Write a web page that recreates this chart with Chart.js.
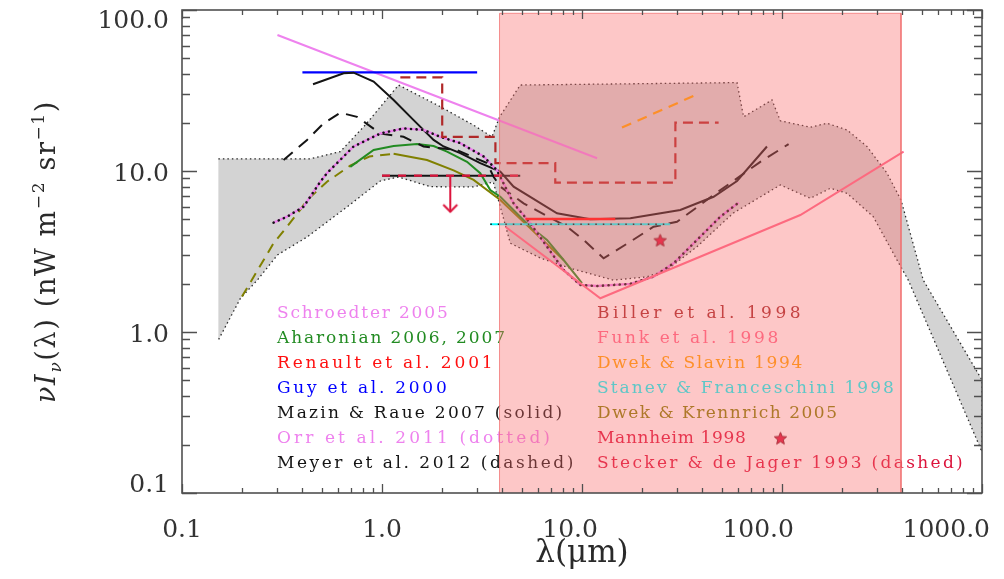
<!DOCTYPE html>
<html>
<head>
<meta charset="utf-8">
<script src="https://cdn.jsdelivr.net/npm/chart.js@4.4.1/dist/chart.umd.min.js"></script>
<style>
  html, body { margin: 0; padding: 0; background: #fff; }
  canvas { display: block; }
</style>
</head>
<body>
<canvas id="c" width="1004" height="579"></canvas>
<script>
// Axis ticks
const xTickValues = [0.1, 1, 10, 100, 1000];
const xTickLabels = ['0.1', '1.0', '10.0', '100.0', '1000.0'];
const yTickValues = [0.1, 1, 10, 100];
const yTickLabels = ['0.1', '1.0', '10.0', '100.0'];

// Wavelength (um) / nu I_nu (nW m^-2 sr^-1)
// Shaded mid-IR window
const windowX = [3.87, 3.87, 393.6, 393.6];
const windowY = [0.1, 95.4, 95.4, 0.1];

// EBL envelope (grey band), upper and lower edges
const envUpperX = [0.152, 0.438, 0.619, 0.825, 1.21, 1.957, 2.861, 3.548, 3.873, 4.915, 59.57, 64.27, 89.1, 98.1, 138.5, 167.9, 211.4, 266.1, 335, 393.6, 508.6, 1000];
const envUpperY = [11.9, 11.9, 13.2, 19.3, 34.2, 25.1, 19.3, 16.3, 21.7, 34.2, 35.4, 21.7, 27.6, 20.5, 18.7, 19.8, 18.0, 14.2, 9.7, 6.6, 2.10, 0.503];
const envLowerX = [0.152, 0.196, 0.238, 0.30, 0.422, 0.668, 0.981, 1.21, 1.744, 2.861, 3.60, 3.904, 4.38, 6.19, 8.74, 14.34, 21.1, 26.6, 37.6, 57.1, 98.1, 138.5, 174.4, 211.4, 286, 375.8, 428, 1000];
const envLowerY = [0.892, 1.62, 2.10, 3.01, 3.89, 5.98, 8.67, 9.18, 7.99, 7.96, 8.55, 6.00, 3.56, 2.88, 2.49, 2.10, 2.20, 2.43, 3.39, 5.48, 8.19, 6.77, 7.81, 7.27, 5.20, 2.80, 2.10, 0.180];

const schroedterX = [0.30, 11.9];
const schroedterY = [69.9, 12.0];

const guyX = [0.40, 2.99];
const guyY = [41.0, 41.0];

const mazinX = [0.452, 0.643, 0.721, 0.908, 1.143, 1.439, 1.811, 2.032, 2.463, 3.10, 3.904, 4.55, 7.50, 11.0, 17.44, 31.0, 45.5, 59.6, 84.1];
const mazinY = [34.6, 40.5, 40.8, 35.9, 27.6, 20.7, 15.6, 14.2, 12.9, 11.2, 9.9, 7.99, 5.46, 5.01, 5.08, 5.73, 6.92, 8.67, 14.2];

const meyerX = [0.322, 0.422, 0.511, 0.619, 0.75, 0.981, 1.282, 1.614, 2.371, 3.35, 3.614, 3.904, 5.105, 8.414, 10.19, 12.82, 17.44, 22.8, 29.85, 36.0, 45.5, 77.9, 107.9];
const meyerY = [11.7, 15.6, 19.8, 23.0, 21.7, 17.1, 16.3, 14.2, 13.5, 11.2, 9.2, 7.99, 6.30, 4.51, 3.73, 2.87, 3.64, 4.51, 4.84, 5.73, 7.10, 11.4, 14.7];

const orrX = [0.287, 0.335, 0.4055, 0.4915, 0.531, 0.721, 0.981, 1.282, 1.614, 1.957, 2.463, 3.221, 3.758, 4.55, 5.514, 6.683, 8.091, 9.806, 11.885, 17.44, 22.8, 28.7, 37.58, 49.15, 60.67];
const orrY = [4.78, 5.20, 6.00, 8.58, 9.7, 14.2, 17.1, 18.4, 18.0, 16.3, 14.9, 12.3, 10.1, 6.30, 4.73, 3.39, 2.43, 1.96, 1.93, 1.99, 2.21, 2.67, 3.73, 5.20, 6.36];

const aharonianX = [0.694, 0.908, 1.143, 1.496, 1.811, 2.114, 2.661, 3.10, 3.479, 3.904, 5.514, 6.683, 8.091, 10.0];
const aharonianY = [10.6, 13.5, 14.3, 14.7, 14.3, 13.2, 11.4, 9.7, 7.62, 6.92, 4.51, 3.73, 2.80, 2.01];

const dwekKrennrichX = [0.1995, 0.287, 0.335, 0.390, 0.4217, 0.531, 0.694, 0.865, 1.143, 1.679, 2.28, 2.871, 3.904, 5.514, 8.09];
const dwekKrennrichY = [1.66, 3.56, 4.51, 5.73, 6.60, 8.58, 10.8, 12.3, 12.8, 11.7, 10.1, 8.8, 6.60, 4.41, 2.80];

const billerX = [1.235, 2.0, 3.69, 7.35, 29.3, 48.2];
const billerY = [38.2, 16.3, 11.2, 8.46, 19.95, 19.95];

const renaultX = [5.21, 14.67];
const renaultY = [5.03, 5.03];

const stanevX = [3.48, 27.6];
const stanevY = [4.67, 4.67];

const dwekSlavinX = [15.85, 37.58];
const dwekSlavinY = [18.6, 29.9];

const funkX = [4.14, 12.35, 123.5, 405.5];
const funkY = [4.51, 1.62, 5.33, 13.2];

const mannheimX = [24.6];
const mannheimY = [3.73];

const steckerX = [1.0, 4.91];
const steckerY = [9.35, 9.35];
const steckerLimitX = [2.195, 2.195];
const steckerLimitY = [9.35, 5.59];

// Legend text
const legendLeft = ['Schroedter 2005', 'Aharonian 2006, 2007', 'Renault et al. 2001', 'Guy et al. 2000',
  'Mazin & Raue 2007 (solid)', 'Orr et al. 2011 (dotted)', 'Meyer et al. 2012 (dashed)'];
const legendRight = ['Biller et al. 1998', 'Funk et al. 1998', 'Dwek & Slavin 1994', 'Stanev & Franceschini 1998',
  'Dwek & Krennrich 2005', 'Mannheim 1998', 'Stecker & de Jager 1993 (dashed)'];

const C = {
  violet: '#EE82EE', green: '#228B22', red: '#FF1010', blue: '#0000FF', black: '#141414',
  brown: '#A52A2A', funk: '#FF6A8C', orange: '#FFA500', cyan: '#00FFFF', olive: '#808000',
  crimson: '#DC143C', grey: '#D3D3D3'
};
const legendLeftColors = [C.violet, C.green, C.red, C.blue, C.black, C.violet, C.black];
const legendRightColors = [C.brown, C.funk, C.orange, C.cyan, C.olive, C.crimson, C.crimson];

const pts = (xs, ys) => xs.map((x, i) => ({ x, y: ys[i] }));

function starImage(size, fill, stroke) {
  const c = document.createElement('canvas');
  c.width = c.height = size;
  const g = c.getContext('2d');
  const cx = size / 2, cy = size / 2 + 0.8, R = size / 2 - 1, r = R * 0.45;
  g.beginPath();
  for (let i = 0; i < 10; i++) {
    const a = -Math.PI / 2 + i * Math.PI / 5;
    const rad = i % 2 ? r : R;
    g.lineTo(cx + rad * Math.cos(a), cy + rad * Math.sin(a));
  }
  g.closePath();
  g.fillStyle = fill; g.fill();
  g.lineWidth = 1; g.strokeStyle = stroke; g.stroke();
  return c;
}
function arrowHead(color) {
  const c = document.createElement('canvas');
  c.width = 20; c.height = 20;
  const g = c.getContext('2d');
  g.strokeStyle = color; g.lineWidth = 2;
  g.beginPath(); g.moveTo(3, 3); g.lineTo(10, 10); g.lineTo(17, 3); g.stroke();
  return c;
}
const starImg = starImage(15, C.crimson, '#7a1020');
const arrowImg = arrowHead(C.crimson);

const line = (data, color, extra) => Object.assign({
  data, showLine: true, borderColor: color, backgroundColor: color, borderWidth: 2,
  pointRadius: 0, fill: false, order: 10
}, extra || {});

const datasets = [
  // translucent mid-IR window, drawn over everything
  line(pts(windowX, windowY), 'rgba(240,110,110,0.75)', {
    borderWidth: 1, fill: 'shape', backgroundColor: 'rgba(250,108,108,0.38)', order: 0
  }),
  { data: pts(mannheimX, mannheimY), pointStyle: starImg, pointRadius: 7, showLine: false, order: 2 },
  line(pts(steckerLimitX, steckerLimitY), C.crimson, { pointStyle: [false, arrowImg], pointRadius: [0, 7], order: 3 }),
  line(pts(steckerX, steckerY), C.crimson, { borderDash: [8, 8], borderWidth: 2.2, order: 4 }),
  line(pts(steckerX, steckerY), C.black, { order: 5 }),
  line(pts(funkX, funkY), C.funk, { order: 6 }),
  line(pts(dwekSlavinX, dwekSlavinY), C.orange, { borderDash: [10, 7], borderWidth: 2.2, order: 6 }),
  line(pts(renaultX, renaultY), C.red, { borderWidth: 2.5, order: 6 }),
  line(pts(stanevX, stanevY), C.black, { borderDash: [1.5, 6], borderWidth: 1.5, order: 6 }),
  line(pts(stanevX, stanevY), C.cyan, { order: 7 }),
  line(pts(billerX, billerY), '#B02828', { stepped: 'before', borderDash: [10, 6], borderWidth: 2.2, order: 7 }),
  line(pts(orrX, orrY), C.black, { borderDash: [0.1, 5.5], borderCapStyle: 'round', borderWidth: 2.6, order: 8 }),
  line(pts(orrX, orrY), C.violet, { borderWidth: 2.4, order: 9 }),
  line(pts(mazinX, mazinY), C.black, { order: 9 }),
  line(pts(meyerX, meyerY), C.black, { borderDash: [12, 8], order: 9 }),
  line(pts(aharonianX, aharonianY), C.green, { order: 10 }),
  line(pts(dwekKrennrichX, dwekKrennrichY), C.olive, {
    order: 10,
    segment: { borderDash: s => (s.p1.parsed.x <= 1.15 ? [10, 7] : undefined) }
  }),
  line(pts(guyX, guyY), C.blue, { borderWidth: 2.2, order: 10 }),
  line(pts(schroedterX, schroedterY), C.violet, { order: 10 }),
  // grey envelope: upper edge left to right, lower edge back
  line(pts(envUpperX.concat(envLowerX.slice().reverse()), envUpperY.concat(envLowerY.slice().reverse())), '#2a2a2a', {
    borderWidth: 1.3, borderDash: [1.5, 3], fill: 'shape', backgroundColor: C.grey, order: 50
  })
];

const FONT = '"DejaVu Serif"';

// Legend: two columns of coloured text inside the plot
const legendCharW = 11.5, legendTop = 314, legendStep = 24.9;
const legendPlugin = {
  id: 'textLegend',
  beforeDatasetsDraw(chart) {
    const ctx = chart.ctx;
    ctx.save();
    ctx.font = '17px ' + FONT;
    ctx.textBaseline = 'middle';
    const column = (labels, colors, x0) => labels.forEach((t, i) => {
      const y = legendTop + i * legendStep;
      ctx.letterSpacing = '0px';
      const w = ctx.measureText(t).width;
      ctx.letterSpacing = ((t.length * legendCharW - w) / t.length).toFixed(2) + 'px';
      ctx.fillStyle = colors[i];
      ctx.fillText(t, x0, y);
      if (t.startsWith('Mannheim')) {
        ctx.drawImage(starImg, x0 + 16 * legendCharW - 8, y - 8);
      }
    });
    column(legendLeft, legendLeftColors, 277);
    column(legendRight, legendRightColors, 597);
    ctx.letterSpacing = '0px';
    ctx.restore();
  }
};

// Frame with inward ticks on all four sides
const framePlugin = {
  id: 'frameTicks',
  afterDraw(chart) {
    const { ctx, chartArea: a, scales: { x, y } } = chart;
    ctx.save();
    ctx.strokeStyle = '#505050';
    ctx.lineWidth = 1.6;
    ctx.strokeRect(a.left, a.top, a.right - a.left, a.bottom - a.top);
    ctx.lineWidth = 1.3;
    ctx.beginPath();
    for (let d = -1; d <= 3; d++) {
      for (let m = 1; m <= 9; m++) {
        const v = m * Math.pow(10, d);
        if (v > x.max * 1.0001) continue;
        const px = Math.round(x.getPixelForValue(v)) + 0.5;
        const len = m === 1 ? 9 : 5;
        ctx.moveTo(px, a.bottom); ctx.lineTo(px, a.bottom - len);
        ctx.moveTo(px, a.top); ctx.lineTo(px, a.top + len);
      }
    }
    for (let d = -1; d <= 2; d++) {
      for (let m = 1; m <= 9; m++) {
        const v = m * Math.pow(10, d);
        if (v > y.max * 1.0001) continue;
        const py = Math.round(y.getPixelForValue(v)) + 0.5;
        const len = m === 1 ? 15 : 8;
        ctx.moveTo(a.left, py); ctx.lineTo(a.left + len, py);
        ctx.moveTo(a.right, py); ctx.lineTo(a.right - len, py);
      }
    }
    ctx.stroke();
    ctx.restore();
  }
};

// Rotated y title with sub/superscripts
const yTitlePlugin = {
  id: 'yTitle',
  afterDraw(chart) {
    const ctx = chart.ctx;
    const a = chart.chartArea;
    const big = 27, small = 17;
    const parts = [
      { t: 'ν', f: `italic ${big}px ${FONT}`, dy: 0 },
      { t: 'I', f: `italic ${big}px ${FONT}`, dy: 0 },
      { t: 'ν', f: `italic ${small}px ${FONT}`, dy: 6 },
      { t: '(λ) (nW m', f: `${big}px ${FONT}`, dy: 0 },
      { t: '−2', f: `${small}px ${FONT}`, dy: -11 },
      { t: ' sr', f: `${big}px ${FONT}`, dy: 0 },
      { t: '−1', f: `${small}px ${FONT}`, dy: -11 },
      { t: ')', f: `${big}px ${FONT}`, dy: 0 }
    ];
    ctx.save();
    const targetLen = 303;
    let total = 0, chars = 0;
    parts.forEach(p => { ctx.font = p.f; p.w = ctx.measureText(p.t).width; total += p.w; chars += p.t.length; });
    const ls = Math.max(0, (targetLen - total) / chars);
    ctx.translate(55, (a.top + a.bottom) / 2);
    ctx.rotate(-Math.PI / 2);
    ctx.fillStyle = '#2a2a2a';
    ctx.textBaseline = 'alphabetic';
    ctx.letterSpacing = ls.toFixed(2) + 'px';
    let xPos = -targetLen / 2;
    parts.forEach(p => {
      ctx.font = p.f;
      ctx.fillText(p.t, xPos, p.dy);
      xPos += p.w + ls * p.t.length;
    });
    ctx.letterSpacing = '0px';
    ctx.restore();
  }
};

// Vertical nudges keeping the end labels inside the frame
const yLabelShift = v => (v >= 100 ? 11 : v <= 0.1 ? -8 : 3);
// Longer x labels sit further left of their tick (trailing padding shifts the centred text)
const xLabelPad = t => ' '.repeat(Math.max(0, 3 * (t.length - 3) + 1));

new Chart(document.getElementById('c'), {
  type: 'scatter',
  data: { datasets },
  options: {
    responsive: false,
    animation: false,
    devicePixelRatio: 1,
    layout: { padding: { left: 0, right: 22, top: 10, bottom: 0 } },
    plugins: { legend: { display: false }, tooltip: { enabled: false } },
    elements: { line: { tension: 0 } },
    scales: {
      x: {
        type: 'logarithmic', position: 'bottom', min: 0.1, max: 1000,
        grid: { display: false, drawTicks: false },
        border: { display: false },
        afterBuildTicks: s => { s.ticks = xTickValues.map(v => ({ value: v })); },
        afterFit: s => { s.height = 86; s.paddingLeft = 0; s.paddingRight = 0; },
        ticks: {
          autoSkip: false, maxRotation: 0, padding: 22, color: '#333', labelOffset: 4,
          font: { family: 'DejaVu Serif', size: 25 },
          callback: (v, i) => xTickLabels[i] + xLabelPad(xTickLabels[i])
        },
        title: {
          display: true, text: 'λ(μm)', color: '#2a2a2a',
          font: { family: 'DejaVu Serif', size: 31 },
          padding: { top: 0, bottom: 6 }
        }
      },
      y: {
        type: 'logarithmic', position: 'left', min: 0.1, max: 100,
        grid: { display: false, drawTicks: false },
        border: { display: false },
        afterBuildTicks: s => { s.ticks = yTickValues.map(v => ({ value: v })); },
        afterFit: s => { s.width = 182; s.paddingTop = 0; s.paddingBottom = 0; },
        ticks: {
          autoSkip: false, padding: 13, color: '#333',
          font: c => ({
            family: 'DejaVu Serif', size: 25,
            lineHeight: (c.tick ? 2 * Math.abs(yLabelShift(c.tick.value)) : 30) + 'px'
          }),
          callback: (v, i) => {
            const s = yLabelShift(v);
            return s > 0 ? ['', yTickLabels[i]] : [yTickLabels[i], ''];
          }
        }
      }
    }
  },
  plugins: [legendPlugin, framePlugin, yTitlePlugin]
});
</script>
</body>
</html>
